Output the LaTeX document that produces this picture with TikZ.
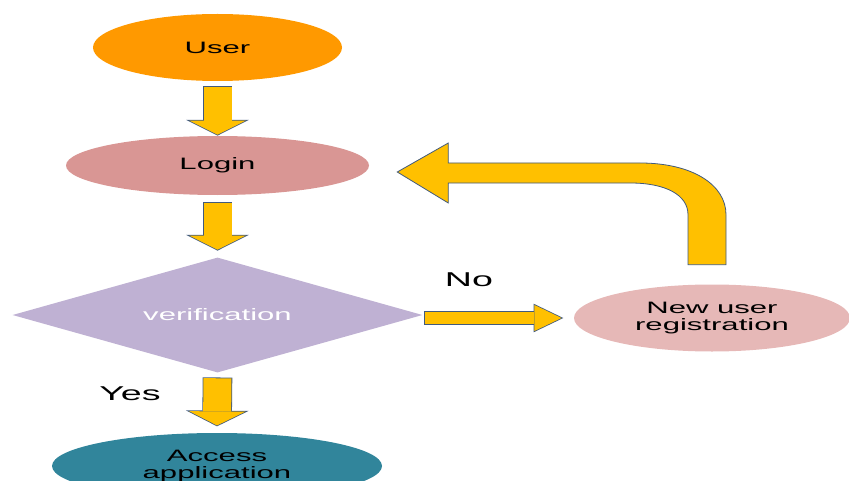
\documentclass[tikz,border=0pt]{standalone}
\usepackage{fontspec}
\newfontfamily\flowfont[FakeStretch=1.88]{Liberation Sans}
\usetikzlibrary{shapes.geometric, arrows.meta, calc}

\definecolor{userorange}{RGB}{255,153,0}
\definecolor{loginpink}{RGB}{217,150,148}
\definecolor{verifylilac}{RGB}{191,177,211}
\definecolor{newregpink}{RGB}{230,184,183}
\definecolor{accessteal}{RGB}{49,133,155}
\definecolor{arrowyellow}{RGB}{255,192,0}
\definecolor{arrowedge}{RGB}{65,90,125}

\begin{document}
\begin{tikzpicture}[
    x=0.75pt, y=-0.75pt,
    flowbox/.style={ellipse, inner sep=0pt, align=center, font=\flowfont\fontsize{12.4pt}{12.4pt}\selectfont},
    decision/.style={diamond, shape aspect=3.6, inner sep=0pt, text=white, font=\flowfont\fontsize{12.4pt}{12.4pt}\selectfont},
    tag/.style={font=\flowfont\fontsize{15pt}{15pt}\selectfont},
    downarrow/.style={draw=arrowyellow, line width=21pt, -{Triangle[width=42pt, length=10.5pt, line width=0pt]},
        preaction={draw=arrowedge, line width=22.2pt, shorten <=-0.6pt, shorten >=-0.67pt,
            -{Triangle[width=47.1pt, length=11.8pt, line width=0pt]}}},
    sidearrow/.style={draw=arrowyellow, line width=9.2pt, -{Triangle[width=19.5pt, length=20.25pt, line width=0pt]},
        preaction={draw=arrowedge, line width=10.4pt, shorten <=-0.6pt, shorten >=-1.38pt,
            -{Triangle[width=21.4pt, length=22.2pt, line width=0pt]}}},
    bentarrow/.style={fill=arrowyellow, draw=arrowedge, line width=0.6pt}
]
\path[use as bounding box, clip] (0,0) rectangle (849,481);

% Flow column
\node[flowbox, fill=userorange, minimum width=186.75pt, minimum height=50.25pt] (user) at (217.5,47.5) {User};
\node[flowbox, fill=loginpink, minimum width=227.25pt, minimum height=44.25pt] (login) at (217.5,165.5) {Login};
\node[decision, fill=verifylilac, minimum width=307.5pt, minimum height=86.25pt] (verify) at (217.5,315) {verification};
\node[flowbox, fill=accessteal, minimum width=247.5pt, minimum height=49.5pt] (access) at (217,466) {Access\\application};
% Registration
\node[flowbox, fill=newregpink, minimum width=207pt, minimum height=50.25pt] (newreg) at (712,318) {New user\\registration};

% Arrows
\draw[downarrow] ($(user.south)+(0,6)$) -- ($(login.north)+(0,-1)$);
\draw[downarrow] ($(login.south)+(0,8)$) -- ($(verify.north)+(0,-7.5)$);
\draw[downarrow] ($(verify.south)+(0,5.5)$) -- ($(access.north)+(0,-7.3)$);
\draw[sidearrow] ($(verify.east |- newreg.west)+(2,0)$) -- ($(newreg.west)+(-12.3,0)$);

% Back to login
\coordinate (bendfoot) at ($(newreg.north)+(-5,-19.5)$);
\coordinate (bendtip) at ($(login.east)+(28,6.5)$);
\draw[bentarrow] ($(bendfoot)+(-19,0)$) -- ++(0,-50)
    .. controls +(0,-20) and +(35,0) .. ($(bendtip)+(233,11)$)
    -- ($(bendtip)+(51,11)$) -- ($(bendtip)+(51,31)$) -- (bendtip)
    -- ($(bendtip)+(51,-29)$) -- ($(bendtip)+(51,-9)$) -- ($(bendtip)+(243,-9)$)
    .. controls +(52,0) and +(0,-30) .. ($(bendfoot)+(19,-50)$)
    -- ($(bendfoot)+(19,0)$) -- cycle;

% Answers
\node[tag] (nolbl) at (469,280) {No};
\node[tag] (yeslbl) at (130,394) {Yes};
\end{tikzpicture}
\end{document}
